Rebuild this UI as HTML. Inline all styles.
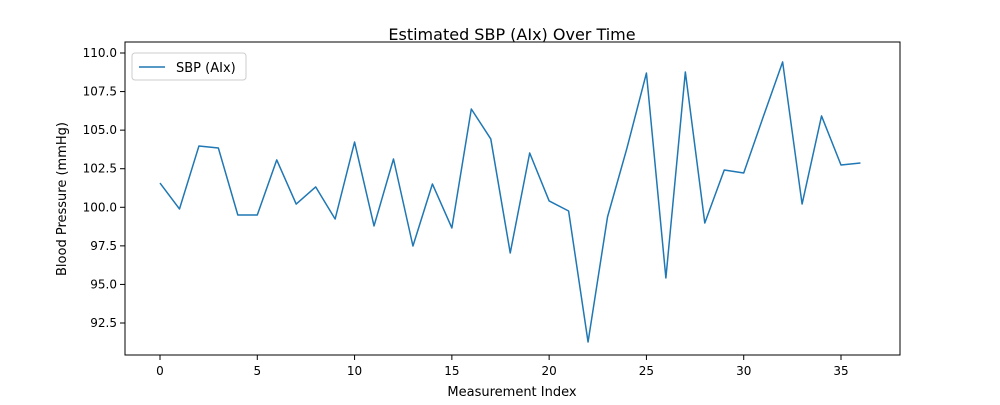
<!DOCTYPE html>
<html><head><meta charset="utf-8"><style>
body{margin:0;background:#fff;font-family:"Liberation Sans","DejaVu Sans",sans-serif}
svg text{font-family:"DejaVu Sans","Liberation Sans",sans-serif;fill:#000}
</style></head><body>
<svg id="chart" width="1000" height="400" xmlns="http://www.w3.org/2000/svg">
<rect x="0" y="0" width="1000" height="400" fill="#fff"/>
<text x="512" y="40" font-size="16" text-anchor="middle">Estimated SBP (AIx) Over Time</text>
<g id="plot"></g>
<rect x="125" y="42" width="775" height="313" fill="none" stroke="#000" stroke-width="1"/>
<text x="512" y="396" font-size="13" text-anchor="middle">Measurement Index</text>
<text x="0" y="0" font-size="13" text-anchor="middle" transform="translate(66,199) rotate(-90)">Blood Pressure (mmHg)</text>
<g>
<rect x="132" y="53" width="114" height="27" rx="3" fill="#fff" stroke="#ccc"/>
<line x1="139" y1="67" x2="165" y2="67" stroke="#1f77b4" stroke-width="1.5"/>
<text x="176" y="72" font-size="13">SBP (AIx)</text>
</g>
</svg>
<script>
const values=[101.57,99.89,103.97,103.84,99.5,99.5,103.07,100.21,101.32,99.24,104.23,98.79,103.13,97.49,101.51,98.66,106.37,104.43,97.04,103.52,100.41,99.76,91.27,99.37,103.84,108.7,95.42,108.77,98.98,102.42,102.22,105.85,109.42,100.21,105.92,102.74,102.87];
const xTicks=[0,5,10,15,20,25,30,35];
const yTicks=[92.5,95.0,97.5,100.0,102.5,105.0,107.5,110.0];
const ns="http://www.w3.org/2000/svg";
const plot=document.getElementById('plot');
function xs(i){return 160+(i-0)*(841-160)/35;}
function ys(v){return 53+(110-v)*(323-53)/17.5;}
function mk(tag,attrs){const e=document.createElementNS(ns,tag);for(const k in attrs)e.setAttribute(k,attrs[k]);plot.appendChild(e);return e;}
xTicks.forEach(t=>{
  const l=mk('line',{x1:xs(t),x2:xs(t),y1:355,y2:360,stroke:'#000'});
  
  
  const tx=mk('text',{x:xs(t),y:375,'font-size':12,'text-anchor':'middle'});
  tx.textContent=t;
  
  
});
yTicks.forEach(t=>{
  const l=mk('line',{x1:120,x2:125,y1:ys(t),y2:ys(t),stroke:'#000'});
  
  
  const tx=mk('text',{x:117,y:ys(t)+4,'font-size':12,'text-anchor':'end'});
  tx.textContent=t.toFixed(1);
  
  
});
const p=mk('polyline',{points:values.map((v,i)=>xs(i)+','+ys(v)).join(' '),fill:'none',stroke:'#1f77b4','stroke-width':1.5,'stroke-linejoin':'round'});


</script>
</body></html>
